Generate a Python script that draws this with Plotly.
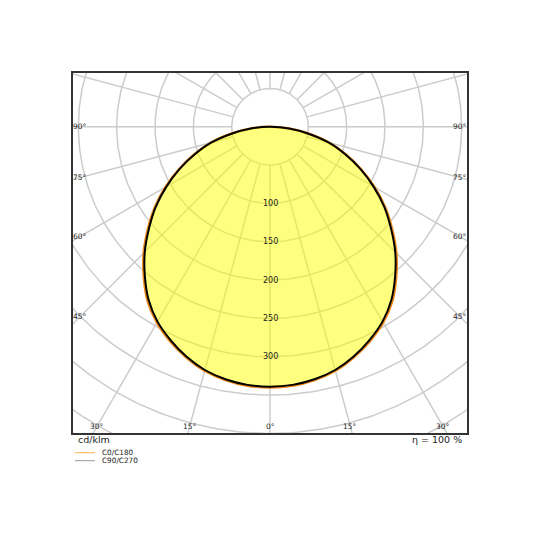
import numpy as np
import plotly.graph_objects as go

# luminous intensity distribution (cd/klm)
gamma = [0, 5, 10, 15, 20, 25, 30, 35, 40, 45, 50, 55, 60, 65, 70, 75, 80, 85, 90]
c0_c180 = [340, 339, 335.5, 329.5, 320, 308.5, 295, 278, 256, 233, 208, 183.5, 157.5, 131, 105, 79.5, 50.5, 25, 0]
c90_c270 = [339, 338, 334.5, 328.5, 319, 307, 293.5, 276, 254, 231, 206, 182, 156, 130, 104, 79, 50, 25, 0]

ring_values = [50, 100, 150, 200, 250, 300, 350, 400, 450, 500, 550, 600, 650, 700]
ring_labels = [100, 150, 200, 250, 300]
spoke_angles = list(range(0, 360, 15))
angle_labels = [90, 75, 60, 45, 30, 15, 0]

unit = "cd/klm"
efficiency = "η = 100 %"
series_names = ["C0/C180", "C90/C270"]

# figure geometry; the page body adds an 8px offset
W, H = 540, 540
OFF = 8
BOX_L, BOX_R, BOX_T, BOX_B = 73, 467, 73, 433  # frame as seen in the window
ML, MT = BOX_L - OFF, BOX_T - OFF
MR, MB = W - (BOX_R - OFF), H - (BOX_B - OFF)
x_rng = [-257.0, 257.0]
y_rng = [-399.5, 70.2]

grid_col = "#cccccc"
c0_col = "#ffb04a"
c90_col = "#9a9a9a"
txt_col = "#222222"
font_family = "DejaVu Sans"


def px_x(p):
    return (p - BOX_L) / (BOX_R - BOX_L)


def px_y(p):
    return (BOX_B - p) / (BOX_B - BOX_T)


def outline(vals):
    g = np.radians(np.array(gamma, dtype=float))
    v = np.array(vals, dtype=float)
    xs = v * np.sin(g)
    ys = -v * np.cos(g)
    x = np.concatenate([-xs[::-1], xs[1:]])
    y = np.concatenate([ys[::-1], ys[1:]])
    return x, y


fig = go.Figure()

# polar grid: rings + spokes (spokes start at the first ring)
t = np.linspace(0, 2 * np.pi, 361)
gx, gy = [], []
for r in ring_values:
    gx += list(r * np.sin(t)) + [None]
    gy += list(-r * np.cos(t)) + [None]
r0, r1 = ring_values[0], ring_values[-1]
for a in spoke_angles:
    ar = np.radians(a)
    gx += [r0 * np.sin(ar), r1 * np.sin(ar), None]
    gy += [-r0 * np.cos(ar), -r1 * np.cos(ar), None]
fig.add_trace(go.Scatter(x=gx, y=gy, mode="lines", hoverinfo="skip",
                         line=dict(color=grid_col, width=1.5), showlegend=False))

# C0/C180 plane
x0, y0 = outline(c0_c180)
fig.add_trace(go.Scatter(x=x0, y=y0, mode="lines", name=series_names[0],
                         line=dict(color="#f08a1c", width=2.6, shape="spline", smoothing=1.0),
                         showlegend=False))

# C90/C270 plane with filled area and black outline
x9, y9 = outline(c90_c270)
fig.add_trace(go.Scatter(x=x9, y=y9, mode="lines", name=series_names[1], fill="toself",
                         fillcolor="rgba(255,255,0,0.5)",
                         line=dict(color="black", width=2, shape="spline", smoothing=1.0),
                         showlegend=False))

annotations = []

# ring value labels along the 0 deg line
for r in ring_labels:
    annotations.append(dict(x=0, y=-r, xref="x", yref="y", text=str(r), showarrow=False,
                            font=dict(size=8, color=txt_col, family=font_family)))

# angle labels where the spokes meet the (inset) frame
inset = 9.0
half_w = x_rng[1] - inset
depth = -(y_rng[0] + inset)
for ang in angle_labels:
    ar = np.radians(ang)
    s, c = np.sin(ar), np.cos(ar)
    cand = []
    if s > 1e-9:
        cand.append(half_w / s)
    if c > 1e-9:
        cand.append(depth / c)
    d = min(cand)
    sides = [1] if ang == 0 else [-1, 1]
    for side in sides:
        annotations.append(dict(x=side * s * d, y=-c * d, xref="x", yref="y",
                                text=f"{ang}°", showarrow=False,
                                font=dict(size=7.5, color=txt_col, family=font_family)))

# texts under the frame
annotations.append(dict(x=px_x(76), y=px_y(439.5), xref="paper", yref="paper", text=unit,
                        showarrow=False, xanchor="left", yanchor="middle",
                        font=dict(size=9.5, color=txt_col, family=font_family)))
annotations.append(dict(x=px_x(464), y=px_y(439.5), xref="paper", yref="paper", text=efficiency,
                        showarrow=False, xanchor="right", yanchor="middle",
                        font=dict(size=9.5, color=txt_col, family=font_family)))

# small legend
shapes = []
for i, (name, col) in enumerate(zip(series_names, [c0_col, c90_col])):
    yy = 452.7 + i * 8
    shapes.append(dict(type="line", xref="paper", yref="paper",
                       x0=px_x(75), x1=px_x(95), y0=px_y(yy), y1=px_y(yy),
                       line=dict(color=col, width=1)))
    annotations.append(dict(x=px_x(99.5), y=px_y(yy), xref="paper", yref="paper", text=name,
                            showarrow=False, xanchor="left", yanchor="middle",
                            font=dict(size=7.3, color=txt_col, family=font_family)))

axis_style = dict(showgrid=False, zeroline=False, showticklabels=False, ticks="",
                  showline=True, mirror=True, linecolor="#333333", linewidth=2)

fig.update_layout(
    width=W, height=H,
    margin=dict(l=ML, r=MR, t=MT, b=MB),
    paper_bgcolor="white", plot_bgcolor="white",
    xaxis=dict(range=x_rng, **axis_style),
    yaxis=dict(range=y_rng, **axis_style),
    annotations=annotations,
    shapes=shapes,
    showlegend=False,
    hovermode=False,
    font=dict(family=font_family),
)

fig.write_html("out.html")
